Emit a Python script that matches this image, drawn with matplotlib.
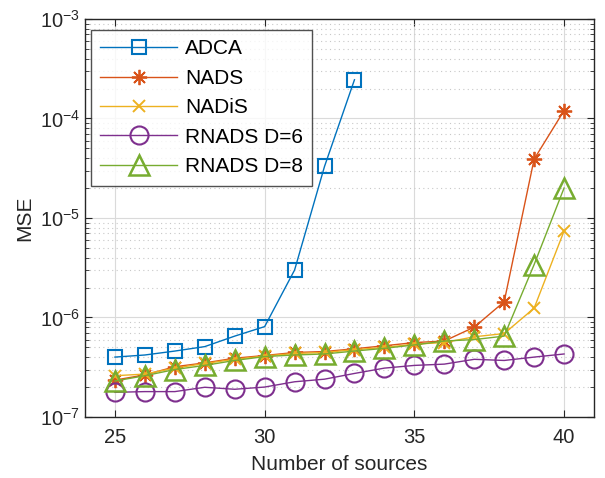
import matplotlib.pyplot as plt
from matplotlib.ticker import LogLocator, NullFormatter

plt.rcParams['font.family'] = ['Liberation Sans', 'DejaVu Sans']

# data
n_adca = list(range(25, 34))
mse_adca = [4.0e-7, 4.2e-7, 4.6e-7, 5.1e-7, 6.5e-7, 8.1e-7, 3.0e-6, 3.3e-5, 2.45e-4]

n_all = list(range(25, 41))
mse_nads = [2.35e-7, 2.65e-7, 3.2e-7, 3.5e-7, 3.9e-7, 4.15e-7, 4.45e-7, 4.55e-7,
            4.85e-7, 5.2e-7, 5.6e-7, 5.8e-7, 8.0e-7, 1.44e-6, 3.9e-5, 1.2e-4]
mse_nadis = [2.6e-7, 2.7e-7, 3.1e-7, 3.45e-7, 3.8e-7, 4.1e-7, 4.35e-7, 4.45e-7,
             4.75e-7, 5.0e-7, 5.4e-7, 5.6e-7, 6.4e-7, 6.9e-7, 1.24e-6, 7.4e-6]
mse_d6 = [1.77e-7, 1.8e-7, 1.8e-7, 1.99e-7, 1.9e-7, 2.0e-7, 2.26e-7, 2.4e-7,
          2.74e-7, 3.1e-7, 3.3e-7, 3.4e-7, 3.8e-7, 3.7e-7, 4.0e-7, 4.3e-7]
mse_d8 = [2.3e-7, 2.6e-7, 3.0e-7, 3.3e-7, 3.7e-7, 4.05e-7, 4.2e-7, 4.3e-7,
          4.6e-7, 4.9e-7, 5.3e-7, 5.8e-7, 6.0e-7, 6.5e-7, 3.4e-6, 2.0e-5]

fig = plt.figure(figsize=(6.05, 4.78), dpi=100)
ax = fig.add_axes([0.1405, 0.1276, 0.8413, 0.8327])

ax.plot(n_adca, mse_adca, color='#0072BD', marker='s', ms=9.5, mfc='none', mew=1.5, lw=1.0, label='ADCA')
ax.plot(n_all, mse_nads, color='#D95319', marker=(8, 2, 0), ms=11, mew=1.3, lw=1.0, label='NADS')
ax.plot(n_all, mse_nadis, color='#EDB120', marker='x', ms=9, mew=1.4, lw=1.0, label='NADiS')
ax.plot(n_all, mse_d6, color='#7E2F8E', marker='o', ms=13, mfc='none', mew=1.5, lw=1.0, label='RNADS D=6')
ax.plot(n_all, mse_d8, color='#77AC30', marker='^', ms=14, mfc='none', mew=1.8, lw=1.0, label='RNADS D=8')

ax.set_yscale('log')
ax.set_xlim(24, 41)
ax.set_ylim(1e-7, 1e-3)
ax.set_xticks([25, 30, 35, 40])
ax.yaxis.set_major_locator(LogLocator(base=10, numticks=10))
ax.yaxis.set_minor_locator(LogLocator(base=10, subs=range(2, 10), numticks=10))
ax.yaxis.set_minor_formatter(NullFormatter())

ax.grid(True, which='major', color='#DADADA', lw=0.8)
ax.grid(True, which='minor', axis='y', color='#C8C8C8', ls=(0, (1, 3)), lw=0.8)
ax.set_axisbelow(True)

ax.tick_params(which='both', direction='in', top=True, right=True, labelsize=14.5, colors='#262626')
ax.tick_params(which='major', length=5)
ax.tick_params(which='minor', length=3)
ax.tick_params(axis='x', pad=8)
for s in ax.spines.values():
    s.set_color('#262626')
    s.set_linewidth(1.0)

ax.set_xlabel('Number of sources', fontsize=15, color='#262626', labelpad=6)
ax.set_ylabel('MSE', fontsize=15, color='#262626', labelpad=4)

leg = ax.legend(loc='upper left', fontsize=15, frameon=True, fancybox=False,
                edgecolor='#262626', handlelength=3.7, handletextpad=0.35, borderpad=0.45,
                labelspacing=0.5, borderaxespad=0, bbox_to_anchor=(0.0118, 0.972))
leg.get_frame().set_linewidth(1.0)

fig.savefig('out.png', dpi=100)
